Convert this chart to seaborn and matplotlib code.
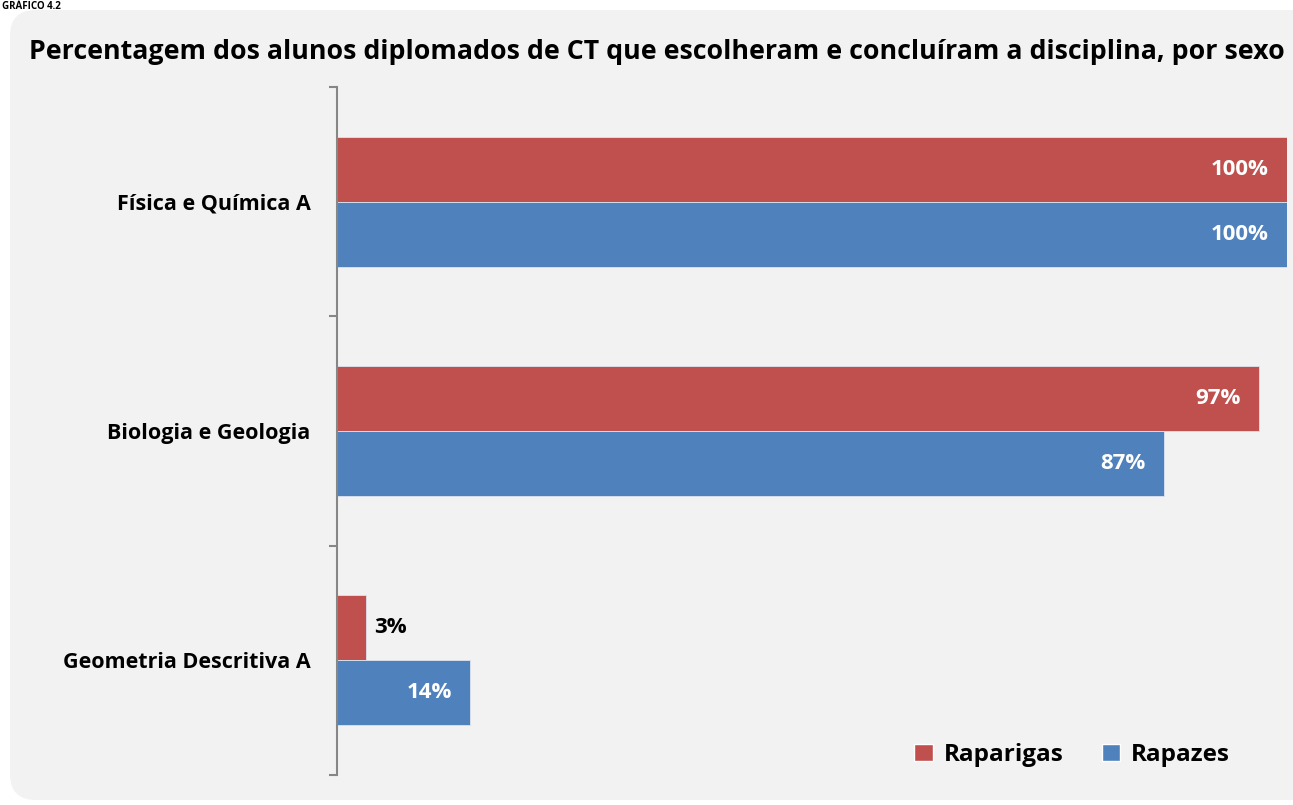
import matplotlib
matplotlib.use("Agg")
import matplotlib.pyplot as plt
import seaborn as sns
import pandas as pd
from matplotlib.patches import FancyBboxPatch, Patch

categories = ["Física e Química A", "Biologia e Geologia", "Geometria Descritiva A"]
raparigas = [100, 97, 3]
rapazes = [100, 87, 14]
series_names = ["Raparigas", "Rapazes"]
title = "Percentagem dos alunos diplomados de CT que escolheram e concluíram a disciplina, por sexo"
colors = ["#C0504D", "#4F81BD"]

rows = []
for c, v in zip(categories, raparigas):
    rows.append({"disciplina": c, "sexo": series_names[0], "pct": v})
for c, v in zip(categories, rapazes):
    rows.append({"disciplina": c, "sexo": series_names[1], "pct": v})
df = pd.DataFrame(rows)

sns.set_theme(style="white")
plt.rcParams["font.family"] = ["Open Sans", "DejaVu Sans"]

W, H = 1293, 805
fig = plt.figure(figsize=(W / 100, H / 100), dpi=100)
fig.patch.set_facecolor("white")

# rounded background panel
bg = FancyBboxPatch((10 / W, 5 / H), (W + 20) / W, (H - 15) / H,
                    boxstyle="round,pad=0,rounding_size=0.02",
                    transform=fig.transFigure, facecolor="#F2F2F2",
                    edgecolor="none", zorder=-10, mutation_aspect=W / H)
fig.patches.append(bg)

fig.text(2 / W, 1 - 1 / H, "GRÁFICO 4.2", fontsize=7, fontweight="bold",
         ha="left", va="top", color="black")

ax = fig.add_axes([337 / W, 1 - 775 / H, (1287 - 337) / W, (775 - 87) / H])
ax.set_zorder(5)
ax.set_facecolor("none")

sns.barplot(data=df, y="disciplina", x="pct", hue="sexo", orient="h",
            palette=colors, width=0.568, dodge=True, saturation=1,
            ax=ax, legend=False, errorbar=None, linewidth=0.6, edgecolor="#DCE3EE")

ax.set_xlim(0, 100)
ax.set_ylim(2.5, -0.5)
ax.set_xlabel("")
ax.set_ylabel("")
ax.set_xticks([])
for s in ["top", "right", "bottom"]:
    ax.spines[s].set_visible(False)
ax.spines["left"].set_color("#868686")
ax.spines["left"].set_linewidth(1.5)

ax.set_yticks(range(len(categories)))
ax.set_yticklabels(categories, fontsize=15.5, fontweight="bold", color="black")
ax.tick_params(axis="y", which="major", length=0, pad=19)
ax.set_yticks([-0.5, 0.5, 1.5, 2.5], minor=True)
ax.tick_params(axis="y", which="minor", length=6, width=1.5, color="#868686", left=True)

for cont, vals in zip(ax.containers, [raparigas, rapazes]):
    for bar, v in zip(cont, vals):
        yc = bar.get_y() + bar.get_height() / 2
        if v >= 10:
            ax.annotate(f"{v}%", (v, yc), xytext=(-13, 0), textcoords="offset points",
                        ha="right", va="center", color="white", fontsize=16,
                        fontweight="bold")
        else:
            ax.annotate(f"{v}%", (v, yc), xytext=(6, 0), textcoords="offset points",
                        ha="left", va="center", color="black", fontsize=16,
                        fontweight="bold")

fig.text(657 / W, 1 - 52 / H, title, ha="center", va="center",
         fontsize=19.3, fontweight="bold", color="black")

handles = [Patch(facecolor=colors[0]), Patch(facecolor=colors[1])]
leg = fig.legend(handles, series_names, loc="center right",
                 bbox_to_anchor=(1252 / W, 1 - 755 / H), ncol=2, frameon=False,
                 prop={"weight": "bold", "size": 17.5}, handlelength=0.75,
                 handleheight=0.75, handletextpad=0.45, columnspacing=1.6)
for t in leg.get_texts():
    t.set_color("black")

fig.savefig("out.png", dpi=100, facecolor=fig.get_facecolor())
